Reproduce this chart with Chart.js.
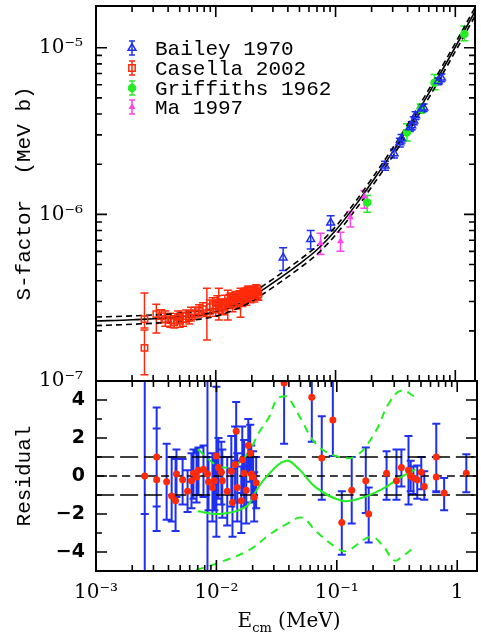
<!DOCTYPE html>
<html>
<head>
<meta charset="utf-8">
<script src="https://cdn.jsdelivr.net/npm/chart.js@4.4.0/dist/chart.umd.min.js"></script>
<style>
html, body { margin: 0; padding: 0; background: #fff; }
#wrap { position: relative; width: 481px; height: 639px; }
canvas { position: absolute; left: 0; top: 0; }
</style>
</head>
<body>
<div id="wrap">
<canvas id="sChart" width="481" height="639"></canvas>
<canvas id="rChart" width="481" height="639"></canvas>
</div>
<script>
// Bailey 1970
var baileyE  = [0.0365, 0.062, 0.091, 0.259, 0.308, 0.344, 0.356, 0.417, 0.433, 0.45, 0.466, 0.524, 0.545, 0.72, 0.766];
var baileyS  = [5.5e-7, 7.1e-7, 8.9e-7, 1.96e-6, 2.32e-6, 2.7e-6, 2.85e-6, 3.32e-6, 3.41e-6, 3.65e-6, 3.92e-6, 4.31e-6, 4.37e-6, 6.3e-6, 6.6e-6];
var baileyHi = [6.3e-7, 8.0e-7, 9.8e-7, 2.08e-6, 2.46e-6, 2.86e-6, 3.02e-6, 3.5e-6, 3.6e-6, 3.85e-6, 4.13e-6, 4.54e-6, 4.6e-6, 6.6e-6, 6.95e-6];
var baileyLo = [4.6e-7, 6.2e-7, 8.0e-7, 1.84e-6, 2.18e-6, 2.54e-6, 2.68e-6, 3.14e-6, 3.22e-6, 3.45e-6, 3.71e-6, 4.08e-6, 4.14e-6, 6.0e-6, 6.25e-6];

// Casella 2002
var casellaE  = [2.54e-3, 2.54e-3, 3.19e-3, 3.5e-3, 3.79e-3, 4.17e-3, 4.5e-3, 4.85e-3, 5.0e-3, 5.33e-3, 5.65e-3, 6.0e-3, 6.21e-3, 6.7e-3, 7.24e-3, 7.81e-3, 8.43e-3, 8.92e-3, 9.44e-3, 1.0e-2, 1.03e-2, 1.06e-2, 1.12e-2, 1.15e-2, 1.19e-2, 1.26e-2, 1.3e-2, 1.33e-2, 1.38e-2, 1.42e-2, 1.46e-2, 1.52e-2, 1.58e-2, 1.61e-2, 1.67e-2, 1.7e-2, 1.74e-2, 1.8e-2, 1.84e-2, 1.87e-2, 1.95e-2, 1.98e-2, 2.02e-2, 2.06e-2, 2.1e-2, 2.14e-2, 2.18e-2, 2.22e-2, 2.27e-2];
var casellaS  = [2.35e-7, 1.58e-7, 2.52e-7, 2.45e-7, 2.35e-7, 2.32e-7, 2.26e-7, 2.42e-7, 2.3e-7, 2.35e-7, 2.45e-7, 2.4e-7, 2.52e-7, 2.55e-7, 2.63e-7, 2.7e-7, 2.55e-7, 2.77e-7, 2.85e-7, 2.7e-7, 2.95e-7, 2.89e-7, 2.81e-7, 2.75e-7, 2.97e-7, 2.89e-7, 3.0e-7, 3.06e-7, 2.93e-7, 3.05e-7, 3.14e-7, 3.01e-7, 3.15e-7, 3.23e-7, 3.1e-7, 3.2e-7, 3.27e-7, 3.18e-7, 3.3e-7, 3.37e-7, 3.23e-7, 3.35e-7, 3.41e-7, 3.36e-7, 3.27e-7, 3.4e-7, 3.46e-7, 3.4e-7, 3.32e-7];
var casellaHi = [3.37e-7, 2.02e-7, 2.89e-7, 2.68e-7, 2.63e-7, 2.55e-7, 2.46e-7, 2.63e-7, 2.52e-7, 2.59e-7, 2.67e-7, 2.63e-7, 2.77e-7, 2.78e-7, 2.87e-7, 2.95e-7, 3.6e-7, 3.06e-7, 3.16e-7, 3.0e-7, 3.25e-7, 3.6e-7, 3.1e-7, 3.05e-7, 3.27e-7, 3.5e-7, 3.3e-7, 3.37e-7, 3.3e-7, 3.36e-7, 3.45e-7, 3.35e-7, 3.48e-7, 3.6e-7, 3.45e-7, 3.55e-7, 3.62e-7, 3.55e-7, 3.65e-7, 3.72e-7, 3.55e-7, 3.68e-7, 3.72e-7, 3.68e-7, 3.6e-7, 3.72e-7, 3.78e-7, 3.72e-7, 3.62e-7];
var casellaLo = [2.08e-7, 1.09e-7, 1.94e-7, 2.24e-7, 2.13e-7, 2.1e-7, 2.08e-7, 2.23e-7, 2.1e-7, 2.13e-7, 2.26e-7, 2.2e-7, 2.29e-7, 2.35e-7, 2.42e-7, 2.48e-7, 1.76e-7, 2.52e-7, 2.57e-7, 2.45e-7, 2.68e-7, 2.32e-7, 2.55e-7, 2.5e-7, 2.7e-7, 2.32e-7, 2.72e-7, 2.79e-7, 2.6e-7, 2.77e-7, 2.86e-7, 2.7e-7, 2.86e-7, 2.41e-7, 2.8e-7, 2.9e-7, 2.95e-7, 2.85e-7, 3.0e-7, 3.05e-7, 2.95e-7, 3.05e-7, 3.12e-7, 3.06e-7, 2.98e-7, 3.1e-7, 3.17e-7, 3.1e-7, 3.05e-7];

// Griffiths 1962
var griffE  = [0.184, 0.394, 0.514, 0.67, 1.19];
var griffS  = [1.18e-6, 3.1e-6, 4.31e-6, 6.17e-6, 1.21e-5];
var griffHi = [1.3e-6, 3.5e-6, 4.6e-6, 6.9e-6, 1.35e-5];
var griffLo = [1.03e-6, 2.76e-6, 4.05e-6, 5.6e-6, 1.1e-5];

// Ma 1997
var maE  = [0.075, 0.11, 0.133, 0.174];
var maS  = [6.7e-7, 6.9e-7, 9.6e-7, 1.28e-6];
var maHi = [7.7e-7, 7.8e-7, 1.04e-6, 1.39e-6];
var maLo = [5.75e-7, 6.0e-7, 8.4e-7, 1.09e-6];

// fit and its band
var fitE  = [0.001, 0.002, 0.005, 0.01, 0.015, 0.02, 0.03, 0.05, 0.07, 0.1, 0.15, 0.2, 0.3, 0.5, 0.7, 1.0, 1.46];
var fitS  = [2.29e-7, 2.33e-7, 2.42e-7, 2.6e-7, 2.88e-7, 3.2e-7, 3.88e-7, 5.05e-7, 6.13e-7, 8.0e-7, 1.16e-6, 1.55e-6, 2.37e-6, 4.27e-6, 6.43e-6, 1.01e-5, 1.65e-5];
var fitUp = [2.42e-7, 2.46e-7, 2.55e-7, 2.74e-7, 3.04e-7, 3.38e-7, 4.09e-7, 5.33e-7, 6.47e-7, 8.44e-7, 1.22e-6, 1.63e-6, 2.5e-6, 4.5e-6, 6.78e-6, 1.065e-5, 1.74e-5];
var fitLo = [2.15e-7, 2.19e-7, 2.28e-7, 2.45e-7, 2.71e-7, 3.01e-7, 3.65e-7, 4.75e-7, 5.76e-7, 7.52e-7, 1.09e-6, 1.46e-6, 2.23e-6, 4.01e-6, 6.04e-6, 9.5e-6, 1.55e-5];

// residuals
var resE  = [2.54e-3, 2.54e-3, 3.19e-3, 3.19e-3, 3.86e-3, 4.25e-3, 4.58e-3, 4.66e-3, 5.24e-3, 5.76e-3, 6.21e-3, 6.45e-3, 6.84e-3, 7.1e-3, 7.81e-3, 8.43e-3, 8.6e-3, 9.27e-3, 9.62e-3, 1.0e-2, 1.04e-2, 1.1e-2, 1.12e-2, 1.23e-2, 1.33e-2, 1.36e-2, 1.43e-2, 1.46e-2, 1.49e-2, 1.61e-2, 1.64e-2, 1.7e-2, 1.77e-2, 1.84e-2, 1.91e-2, 1.95e-2, 2.02e-2, 2.06e-2, 2.14e-2,
             0.0365, 0.062, 0.075, 0.0927, 0.11, 0.133, 0.174, 0.184, 0.259, 0.313, 0.344, 0.394, 0.411, 0.433, 0.466, 0.503, 0.533, 0.67, 0.67, 0.779, 1.19];
var resR  = [0, -7, 1.0, -0.2, -0.3, -1.05, -1.3, 0.1, -0.2, -0.8, -0.25, 0.15, -0.05, 0.3, 0.35, 0.1, -0.3, -0.6, -0.25, 1.05, 0.45, 0.2, -0.25, -0.8, 0.25, -1.4, 0.6, 2.35, -0.6, -1.3, 0.85, 0.15, -0.75, 1.6, 1.2, 0.1, -0.05, -1.1, -0.35,
             4.9, 4.15, 0.95, 2.95, -2.45, -0.75, -0.25, -2.0, 0.15, -0.25, 0.45, 0.3, 0.0, -0.1, -0.2, 0.2, -0.55, 1.0, -0.05, -0.9, 0.15];
var resHi = [6, -2, 3.6, 2.5, 1.7, 1.0, 0.9, 1.4, 0.9, 0.3, 1.2, 1.4, 1.3, 1.5, 1.6, 6, 1.0, 1.2, 1.2, 4.7, 2.0, 1.8, 1.4, 1.0, 2.1, 0.4, 2.6, 3.9, 1.2, 0.5, 2.6, 1.9, 1.0, 3.0, 2.7, 1.6, 1.3, 0.2, 1.0,
             7, 6, 3.15, 5, -0.8, 1.0, 1.5, -0.6, 1.3, 1.4, 1.4, 2.1, 0.8, 0.5, 0.55, 1.0, 0.25, 2.75, 1.0, -0.1, 1.15];
var resLo = [-6, -12, -1.6, -2.9, -2.3, -2.4, -2.9, -1.1, -1.5, -1.9, -1.7, -1.2, -1.4, -1.0, -1.1, -6, -1.8, -2.4, -1.8, -3.2, -1.2, -1.5, -2.2, -2.6, -1.6, -3.2, -1.4, 0.8, -2.4, -3.0, -0.9, -1.6, -2.5, 0.2, -0.3, -1.4, -1.4, -2.4, -1.7,
             1.7, 1.8, -1.25, 1.05, -4.15, -2.5, -1.95, -3.5, -1.25, -1.25, -0.55, -1.5, -0.8, -0.95, -1.2, -0.7, -1.25, -0.8, -0.85, -1.8, -0.85];

// green curves in the residual panel
var resFitE = [0.007, 0.0106, 0.0177, 0.0213, 0.0259, 0.0379, 0.0486, 0.067, 0.11, 0.152, 0.236, 0.344, 0.45];
var resFitR = [-1.85, -2.0, -1.6, -0.8, -0.05, 0.8, 0.35, -0.6, -1.3, -1.2, -0.7, -0.05, 0.35];
var resUpE  = [0.007, 0.0106, 0.0146, 0.0187, 0.0226, 0.0274, 0.0319, 0.0379, 0.0401, 0.0514, 0.067, 0.098, 0.1435, 0.21, 0.269, 0.344, 0.45];
var resUpR  = [1.4, 0.5, 0.6, 1.3, 2.3, 3.1, 4.05, 4.2, 4.1, 2.9, 1.7, 1.05, 1.05, 2.35, 3.8, 4.5, 4.15];
var resDnE  = [0.0068, 0.0106, 0.0187, 0.0274, 0.0379, 0.0514, 0.067, 0.098, 0.12, 0.19, 0.236, 0.3, 0.34, 0.45];
var resDnR  = [-4.95, -4.55, -3.9, -3.1, -2.55, -2.2, -2.9, -3.75, -3.95, -3.2, -3.6, -4.45, -4.3, -3.7];

// reference lines
var refE = [0.001, 1.46];
var refZero = [0, 0];
var refPlus = [1, 1];
var refMinus = [-1, -1];

// axes
var eRange = [0.001, 1.46];
var sRange = [1e-7, 1.78e-5];
var rRange = [-5, 5];
var eTicks = [0.001, 0.01, 0.1, 1];
var sTicks = [1e-7, 1e-6, 1e-5];
var rTicks = [-4, -2, 0, 2, 4];

var BLUE = '#1f2fee', RED = '#ff2a0a', GREEN = '#22ee22', MAGENTA = '#ff44ee';

function pts(xs, ys) { return xs.map(function (x, i) { return { x: x, y: ys[i] }; }); }

var SUP = { '-': '\u207B', '0': '\u2070', '1': '\u00B9', '2': '\u00B2', '3': '\u00B3', '4': '\u2074', '5': '\u2075', '6': '\u2076', '7': '\u2077', '8': '\u2078', '9': '\u2079' };
function decadeLabel(v) {
  var e = Math.round(Math.log10(v));
  if (e === 0) return '1';
  return '10' + String(e).split('').map(function (c) { return SUP[c]; }).join('');
}
function setTicks(list) { return function (s) { s.ticks = list.map(function (v) { return { value: v }; }); }; }
function noPad(s) { s.paddingTop = 0; s.paddingBottom = 0; s.paddingLeft = 0; s.paddingRight = 0; }

function logMinor(lo, hi) {
  var out = [];
  for (var d = Math.floor(Math.log10(lo)); d <= Math.ceil(Math.log10(hi)); d++) {
    for (var m = 2; m <= 9; m++) { var v = m * Math.pow(10, d); if (v > lo && v < hi) out.push(v); }
  }
  return out;
}

// frame with inward ticks on all four sides
var frameTicks = {
  id: 'frameTicks',
  afterDraw: function (chart, args, o) {
    var ctx = chart.ctx, a = chart.chartArea, xs = chart.scales.x, ys = chart.scales.y;
    ctx.save();
    ctx.strokeStyle = '#000';
    ctx.lineWidth = 1.6;
    ctx.beginPath();
    function xt(v, len) { var p = xs.getPixelForValue(v); ctx.moveTo(p, a.bottom); ctx.lineTo(p, a.bottom - len); ctx.moveTo(p, a.top); ctx.lineTo(p, a.top + len); }
    function yt(v, len) { var p = ys.getPixelForValue(v); ctx.moveTo(a.left, p); ctx.lineTo(a.left + len, p); ctx.moveTo(a.right, p); ctx.lineTo(a.right - len, p); }
    o.xMajor.forEach(function (v) { xt(v, 11); });
    o.xMinor.forEach(function (v) { xt(v, 6); });
    o.yMajor.forEach(function (v) { yt(v, 11); });
    o.yMinor.forEach(function (v) { yt(v, 6); });
    ctx.stroke();
    ctx.lineWidth = 2;
    ctx.strokeRect(a.left, a.top, a.right - a.left, a.bottom - a.top);
    ctx.restore();
  }
};

// vertical error bars read from errHi / errLo of each dataset
var errorBars = {
  id: 'errorBars',
  beforeDatasetsDraw: function (chart) {
    var ctx = chart.ctx, a = chart.chartArea, ys = chart.scales.y;
    ctx.save();
    ctx.beginPath(); ctx.rect(a.left, a.top, a.right - a.left, a.bottom - a.top); ctx.clip();
    chart.data.datasets.forEach(function (ds, i) {
      if (!ds.errHi) return;
      var meta = chart.getDatasetMeta(i);
      ctx.strokeStyle = ds.errColor || ds.borderColor;
      ctx.lineWidth = ds.errWidth || 1.5;
      var c = ds.capHalf || 4;
      ctx.beginPath();
      meta.data.forEach(function (pt, j) {
        var y1 = ys.getPixelForValue(ds.errHi[j]), y2 = ys.getPixelForValue(ds.errLo[j]);
        ctx.moveTo(pt.x, y1); ctx.lineTo(pt.x, y2);
        ctx.moveTo(pt.x - c, y1); ctx.lineTo(pt.x + c, y1);
        ctx.moveTo(pt.x - c, y2); ctx.lineTo(pt.x + c, y2);
      });
      ctx.stroke();
    });
    ctx.restore();
  }
};

// legend in the upper left corner
var cornerLegend = {
  id: 'cornerLegend',
  afterDraw: function (chart) {
    var ctx = chart.ctx;
    ctx.save();
    ctx.font = '21px "Liberation Mono"';
    ctx.textBaseline = 'middle';
    var rows = [48, 68, 88, 107];
    for (var i = 0; i < 4; i++) {
      var ds = chart.data.datasets[i], y = rows[i], x = 132;
      ctx.strokeStyle = ds.borderColor; ctx.lineWidth = 1.5;
      ctx.beginPath();
      ctx.moveTo(x, y - 7); ctx.lineTo(x, y + 7);
      ctx.moveTo(x - 3, y - 7); ctx.lineTo(x + 3, y - 7);
      ctx.moveTo(x - 3, y + 7); ctx.lineTo(x + 3, y + 7);
      ctx.stroke();
      ctx.fillStyle = ds.backgroundColor; ctx.strokeStyle = ds.borderColor; ctx.lineWidth = ds.borderWidth;
      Chart.helpers.drawPoint(ctx, { pointStyle: ds.pointStyle, radius: ds.pointRadius, borderWidth: ds.borderWidth, rotation: 0 }, x, y);
      ctx.fillStyle = '#000';
      ctx.fillText(ds.label, 155, y + 1);
    }
    ctx.restore();
  }
};

// x title with subscript
var eTitle = {
  id: 'eTitle',
  afterDraw: function (chart) {
    var ctx = chart.ctx, big = '20px "DejaVu Serif"', small = '13px "DejaVu Serif"';
    ctx.save();
    ctx.fillStyle = '#000';
    ctx.textBaseline = 'alphabetic';
    ctx.font = big; var w1 = ctx.measureText('E').width, w3 = ctx.measureText(' (MeV)').width;
    ctx.font = small; var w2 = ctx.measureText('cm').width;
    var x = 289 - (w1 + w2 + w3) / 2, y = 627;
    ctx.font = big; ctx.fillText('E', x, y);
    ctx.font = small; ctx.fillText('cm', x + w1, y + 5);
    ctx.font = big; ctx.fillText(' (MeV)', x + w1 + w2, y);
    ctx.restore();
  }
};

function dataSet(label, xs, ys, hi, lo, color, style, radius, fill) {
  return {
    label: label, data: pts(xs, ys), errHi: hi, errLo: lo,
    borderColor: color, backgroundColor: fill ? color : 'rgba(0,0,0,0)',
    pointStyle: style, pointRadius: radius, borderWidth: 1.5, showLine: false
  };
}
function curve(xs, ys, color, dash, width, mono) {
  return {
    data: pts(xs, ys), showLine: true, pointRadius: 0, borderColor: color,
    borderWidth: width || 1.6, borderDash: dash || [], tension: 0.4, fill: false,
    cubicInterpolationMode: mono ? 'monotone' : 'default'
  };
}

var tickFont = { family: 'DejaVu Serif', size: 20 };
var titleFont = { family: 'Liberation Mono', size: 21 };

new Chart(document.getElementById('sChart'), {
  type: 'scatter',
  data: {
    datasets: [
      dataSet('Bailey 1970', baileyE, baileyS, baileyHi, baileyLo, BLUE, 'triangle', 4.5, false),
      dataSet('Casella 2002', casellaE, casellaS, casellaHi, casellaLo, RED, 'rect', 4.5, false),
      dataSet('Griffiths 1962', griffE, griffS, griffHi, griffLo, GREEN, 'circle', 3.5, true),
      dataSet('Ma 1997', maE, maS, maHi, maLo, MAGENTA, 'triangle', 2.5, true),
      curve(fitE, fitS, '#000', [], 1.6, true),
      curve(fitE, fitUp, '#000', [6, 4], 1.6, true),
      curve(fitE, fitLo, '#000', [6, 4], 1.6, true)
    ]
  },
  options: {
    responsive: false, animation: false,
    layout: { padding: { left: 0, right: 1, top: 5, bottom: 258 } },
    plugins: {
      legend: { display: false }, tooltip: { enabled: false },
      frameTicks: { xMajor: eTicks, xMinor: logMinor(eRange[0], eRange[1]), yMajor: sTicks, yMinor: logMinor(sRange[0], sRange[1]) }
    },
    scales: {
      x: { type: 'logarithmic', min: eRange[0], max: eRange[1], display: false, afterFit: noPad },
      y: {
        type: 'logarithmic', min: sRange[0], max: sRange[1],
        afterBuildTicks: setTicks(sTicks),
        afterFit: function (s) { s.width = 96; noPad(s); },
        grid: { display: false, drawTicks: false }, border: { display: false },
        ticks: { callback: decadeLabel, font: tickFont, color: '#000', padding: 13, autoSkip: false },
        title: { display: true, text: 'S-factor  (MeV b)', color: '#000', font: titleFont, padding: { top: 12, bottom: 0 } }
      }
    }
  },
  plugins: [errorBars, frameTicks, cornerLegend]
});

var resPoints = dataSet('Residual', resE, resR, resHi, resLo, RED, 'circle', 3.5, true);
resPoints.errColor = BLUE; resPoints.errWidth = 2; resPoints.borderWidth = 0;

new Chart(document.getElementById('rChart'), {
  type: 'scatter',
  data: {
    datasets: [
      resPoints,
      curve(resFitE, resFitR, GREEN, [], 2),
      curve(resUpE, resUpR, GREEN, [8, 6], 2),
      curve(resDnE, resDnR, GREEN, [8, 6], 2),
      curve(refE, refZero, '#000', [8, 5], 1.6),
      curve(refE, refPlus, '#000', [18, 6], 1.6),
      curve(refE, refMinus, '#000', [18, 6], 1.6)
    ]
  },
  options: {
    responsive: false, animation: false,
    layout: { padding: { left: 0, right: 1, top: 381, bottom: 0 } },
    plugins: {
      legend: { display: false }, tooltip: { enabled: false },
      frameTicks: { xMajor: eTicks, xMinor: logMinor(eRange[0], eRange[1]), yMajor: rTicks, yMinor: [-5, -3, -1, 1, 3, 5] }
    },
    scales: {
      x: {
        type: 'logarithmic', min: eRange[0], max: eRange[1],
        afterBuildTicks: setTicks(eTicks),
        afterFit: function (s) { s.height = 68; noPad(s); },
        grid: { display: false, drawTicks: false }, border: { display: false },
        ticks: { callback: decadeLabel, font: tickFont, color: '#000', padding: 10, maxRotation: 0, autoSkip: false }
      },
      y: {
        min: rRange[0], max: rRange[1],
        afterBuildTicks: setTicks(rTicks),
        afterFit: function (s) { s.width = 96; noPad(s); },
        grid: { display: false, drawTicks: false }, border: { display: false },
        ticks: { font: { family: 'DejaVu Sans', size: 19, weight: 'bold' }, color: '#000', padding: 11, autoSkip: false,
                 callback: function (v) { return v < 0 ? '\u2212' + Math.abs(v) : String(v); } },
        title: { display: true, text: 'Residual', color: '#000', font: titleFont, padding: { top: 12, bottom: 0 } }
      }
    }
  },
  plugins: [errorBars, frameTicks, eTitle]
});
</script>
</body>
</html>
